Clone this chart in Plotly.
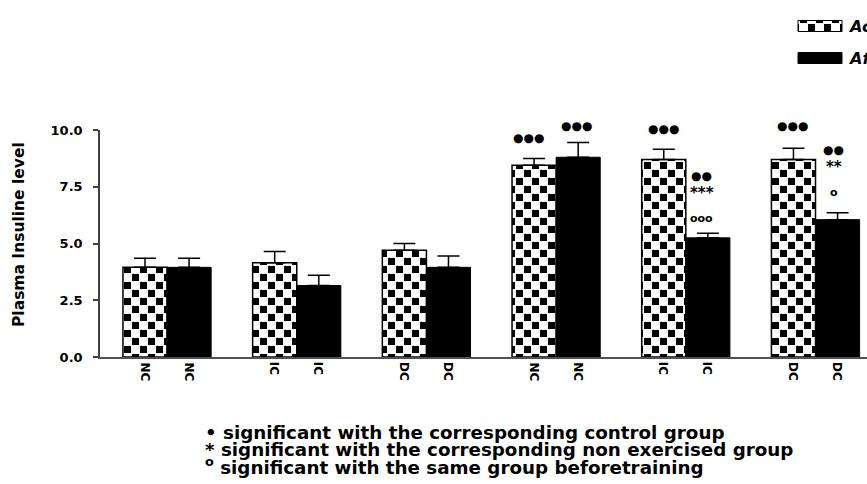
import plotly.graph_objects as go

# Groups along the x axis (two bars per group)
groups = ["NC", "IC", "DC", "NC", "IC", "DC"]
series_names = ["Acute exercise", "After training"]

# Plasma insuline level: mean and upper error for each series
checkered_vals = [3.95, 4.15, 4.7, 8.45, 8.7, 8.7]
checkered_err = [0.4, 0.5, 0.3, 0.3, 0.45, 0.5]
black_vals = [3.95, 3.15, 3.95, 8.8, 5.25, 6.05]
black_err = [0.4, 0.45, 0.5, 0.65, 0.2, 0.3]

y_range = [0, 10]
y_ticks = [0, 2.5, 5, 7.5, 10]
y_ticktext = ["0.0", "2.5", "5.0", "7.5", "10.0"]

# Significance marks: (group index, series 0/1, y level, text, size, x shift)
sig_marks = [
    (3, 0, 9.65, "●●●", 12, -6),
    (3, 1, 10.19, "●●●", 12, -2),
    (4, 0, 10.04, "●●●", 12, 0),
    (4, 1, 7.97, "●●", 12, -6),
    (4, 1, 7.24, "***", 15, -6),
    (4, 1, 6.11, "ooo", 11, -6),
    (5, 0, 10.19, "●●●", 12, -1),
    (5, 1, 9.12, "●●", 12, -4),
    (5, 1, 8.36, "**", 15, -4),
    (5, 1, 7.24, "o", 11, -4),
]

footnotes = [
    "• significant with the corresponding control group",
    "* significant with the corresponding non exercised group",
    "<sup>o</sup> significant with the same group beforetraining",
]

FONT = "DejaVu Sans"
W, H = 867, 484
ML, MR, MT, MB = 100, 0, 130, 127
PW, PH = W - ML - MR, H - MT - MB
OFF = 0.17  # half of a bar width in category units


def y_to_paper(v):
    return (v - y_range[0]) / (y_range[1] - y_range[0])


x = list(range(len(groups)))

fig = go.Figure()
fig.add_trace(go.Bar(
    x=x, y=checkered_vals, name=series_names[0],
    marker=dict(color="white", line=dict(color="black", width=1.5),
                pattern=dict(shape="+", fgcolor="black", bgcolor="white",
                             size=16, solidity=0.5)),
    error_y=dict(type="data", symmetric=False, array=checkered_err,
                 arrayminus=[0] * len(x), color="black", thickness=1.5, width=11),
))
fig.add_trace(go.Bar(
    x=x, y=black_vals, name=series_names[1],
    marker=dict(color="black", line=dict(color="black", width=1)),
    error_y=dict(type="data", symmetric=False, array=black_err,
                 arrayminus=[0] * len(x), color="black", thickness=1.5, width=11),
))

annotations = []
# Rotated group labels under every bar
for i, g in enumerate(groups):
    for s in (-OFF, OFF):
        annotations.append(dict(
            x=i + s, y=0, xref="x", yref="paper", yanchor="top", xanchor="center",
            yshift=-3, text=g, textangle=90, showarrow=False,
            font=dict(family=FONT, size=12, color="black", weight="bold")))

for gi, si, yv, txt, sz, xs in sig_marks:
    annotations.append(dict(
        x=gi + (OFF if si else -OFF), y=y_to_paper(yv), xref="x", yref="paper",
        text=txt, showarrow=False, xshift=xs, yanchor="middle",
        font=dict(family=FONT, size=sz, color="black", weight="bold")))

# Y axis title
annotations.append(dict(
    x=(19 - ML) / PW, y=(H - MB - 235) / PH, xref="paper", yref="paper",
    xanchor="center", yanchor="middle",
    text="Plasma Insuline level", textangle=-90, showarrow=False,
    font=dict(family=FONT, size=15.5, color="black", weight="bold")))

# Footnotes
for txt, py in zip(footnotes, [432, 449, 466]):
    annotations.append(dict(
        x=(203 - ML) / PW, y=(H - MB - py) / PH, xref="paper", yref="paper",
        xanchor="left", yanchor="middle", text=txt, showarrow=False,
        font=dict(family=FONT, size=18.3, color="black", weight="bold")))

# Legend entries (text)
for name, py in zip(series_names, [26, 58]):
    annotations.append(dict(
        x=(846 - ML) / PW, y=(H - MB - py) / PH, xref="paper", yref="paper",
        xanchor="left", yanchor="middle", text=name, showarrow=False,
        font=dict(family=FONT, size=16, color="black", weight="bold",
                  style="italic")))

shapes = []
# Legend swatches: the first one is filled with the checker pattern by script
for py, fc in zip([26, 58], ["rgb(1,2,3)", "black"]):
    shapes.append(dict(
        type="rect", xref="paper", yref="paper",
        x0=(798 - ML) / PW, x1=(842 - ML) / PW,
        y0=(H - MB - (py - 5.5)) / PH, y1=(H - MB - (py + 5.5)) / PH,
        fillcolor=fc, line=dict(color="black", width=1)))

fig.update_layout(
    width=W, height=H,
    margin=dict(l=ML, r=MR, t=MT, b=MB, pad=0),
    paper_bgcolor="white", plot_bgcolor="white",
    barmode="group", bargap=0.32, bargroupgap=0,
    showlegend=False,
    annotations=annotations, shapes=shapes,
    font=dict(family=FONT, color="black"),
)
fig.update_xaxes(
    range=[-0.517, 5.397], showticklabels=False, ticks="",
    showline=True, linecolor="#505050", linewidth=2,
    showgrid=False, zeroline=False,
)
fig.update_yaxes(
    range=y_range, tickvals=y_ticks, ticktext=y_ticktext,
    ticks="outside", ticklen=5, tickwidth=1.5, tickcolor="#404040",
    ticklabelstandoff=8,
    showline=True, linecolor="#404040", linewidth=1.5,
    showgrid=False, zeroline=False,
    tickfont=dict(family=FONT, size=13, color="black", weight="bold"),
)

# Replace the bar pattern tiles with a checkerboard and reuse it for the swatch
checker_js = """
var gd = document.getElementById('{plot_id}');
function checker(){
  var NS = 'http://www.w3.org/2000/svg';
  var C = 8;
  gd.querySelectorAll('pattern').forEach(function(p){
    if (p.getAttribute('data-chk')) return;
    p.setAttribute('data-chk', '1');
    p.setAttribute('width', 2 * C);
    p.setAttribute('height', 2 * C);
    p.removeAttribute('patternTransform');
    while (p.firstChild) p.removeChild(p.firstChild);
    function rect(x, y, w, h, f){
      var r = document.createElementNS(NS, 'rect');
      r.setAttribute('x', x); r.setAttribute('y', y);
      r.setAttribute('width', w); r.setAttribute('height', h);
      r.setAttribute('fill', f);
      p.appendChild(r);
    }
    rect(0, 0, 2 * C, 2 * C, 'white');
    rect(0, 0, C - 1, C - 1, 'black');
    rect(C, C, C - 1, C - 1, 'black');
  });
  var url = null;
  gd.querySelectorAll('path').forEach(function(el){
    var f = el.style.fill;
    if (!url && f && f.indexOf('url') === 0) url = f;
  });
  if (url) {
    gd.querySelectorAll('path').forEach(function(el){
      if (el.style.fill === 'rgb(1, 2, 3)') el.style.fill = url;
    });
  }
}
checker();
gd.on('plotly_afterplot', checker);
"""

fig.write_html("out.html", post_script=checker_js)
